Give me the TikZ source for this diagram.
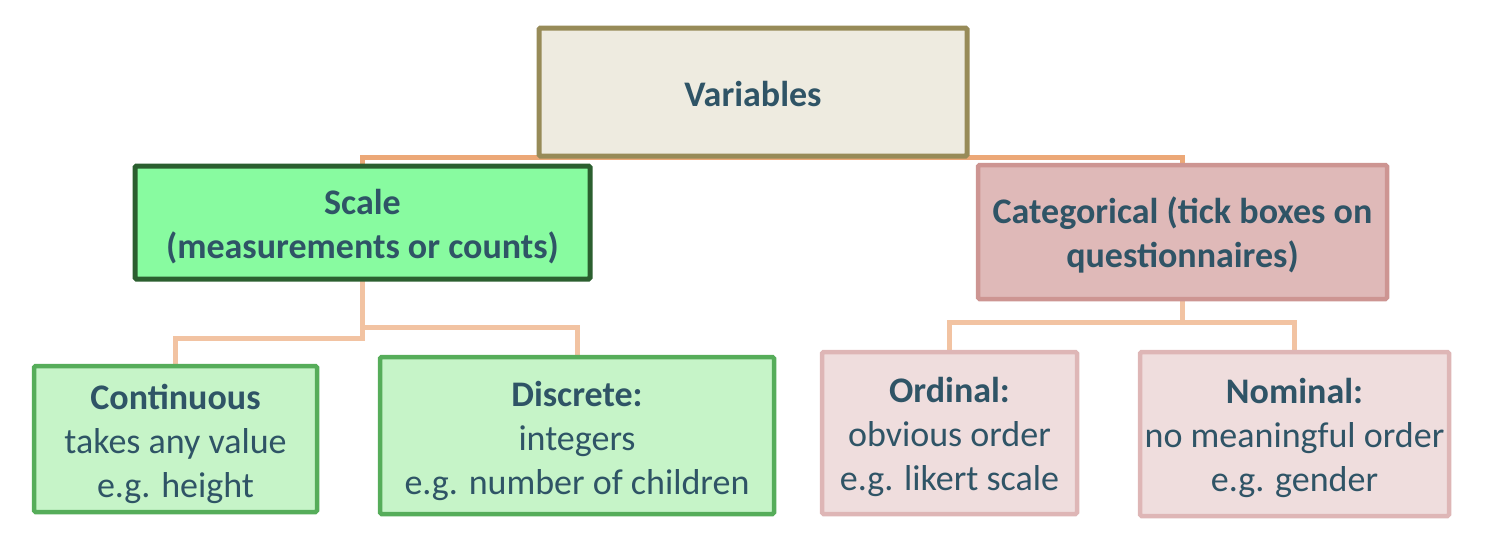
\documentclass[tikz,border=0pt]{standalone}
\usepackage{fontspec}
\setmainfont{Carlito}
\usetikzlibrary{backgrounds}
\definecolor{txt}{RGB}{47,84,102}
\definecolor{varfill}{RGB}{238,235,224}
\definecolor{vardraw}{RGB}{151,139,88}
\definecolor{scalefill}{RGB}{136,251,160}
\definecolor{scaledraw}{RGB}{43,95,47}
\definecolor{catfill}{RGB}{223,185,184}
\definecolor{catdraw}{RGB}{205,149,146}
\definecolor{leaffillg}{RGB}{198,244,200}
\definecolor{leafdrawg}{RGB}{86,173,90}
\definecolor{leaffillr}{RGB}{239,221,221}
\definecolor{leafdrawr}{RGB}{222,182,182}
\definecolor{toplink}{RGB}{236,168,119}
\definecolor{lowlink}{RGB}{242,195,162}
\newcommand\boxtext[2]{\raisebox{-#1}[\height][\depth]{\begin{tabular}{@{}c@{}}#2\end{tabular}}}
\tikzset{
  box/.style={rectangle, rounded corners=1.5pt, outer sep=0pt, inner sep=0pt, align=center,
    text=txt, font=\fontsize{36}{44}\selectfont},
  varbox/.style={box, fill=varfill, draw=vardraw, line width=5pt},
  scalebox/.style={box, fill=scalefill, draw=scaledraw, line width=5pt},
  catbox/.style={box, fill=catfill, draw=catdraw, line width=4.5pt},
  gleaf/.style={box, fill=leaffillg, draw=leafdrawg, line width=4.5pt},
  rleaf/.style={box, fill=leaffillr, draw=leafdrawr, line width=4.5pt},
  toplinkline/.style={draw=toplink, line width=5pt},
  lowlinkline/.style={draw=lowlink, line width=5pt},
}
\begin{document}
\begin{tikzpicture}[x=1pt,y=-1pt]
\useasboundingbox (0,0) rectangle (1488,542);
\node[varbox, minimum width=428pt, minimum height=128pt] (var) at (753,92) {\boxtext{5.4pt}{\textbf{Variables}}};
\node[scalebox, minimum width=455pt, minimum height=113pt] (scale) at (362.5,222.5) {\boxtext{5.4pt}{\textbf{Scale}\\\textbf{(measurements or counts)}}};
\node[catbox, minimum width=409pt, minimum height=134pt] (cat) at (1182.5,232) {\boxtext{4.4pt}{\textbf{Categorical (tick boxes on}\\\textbf{questionnaires)}}};
\node[gleaf, minimum width=283pt, minimum height=146pt] (cont) at (175.5,439) {\boxtext{5.7pt}{\textbf{Continuous}\\takes any value\\e.g. height}};
\node[gleaf, minimum width=394pt, minimum height=157pt] (disc) at (577,435.5) {\boxtext{5.7pt}{\textbf{Discrete:}\\integers\\e.g. number of children}};
\node[rleaf, minimum width=255pt, minimum height=162pt] (ord) at (949.5,433) {\boxtext{4.7pt}{\textbf{Ordinal:}\\obvious order\\e.g. likert scale}};
\node[rleaf, minimum width=309pt, minimum height=164pt] (nom) at (1294.5,434) {\boxtext{4.7pt}{\textbf{Nominal:}\\no meaningful order\\e.g. gender}};
\begin{scope}[on background layer]
\draw[toplinkline] (scale.north) -- ++(0,-9) -| (cat.north);
\draw[lowlinkline] (cont.north) -- ++(0,-28) -| (scale.south);
\draw[lowlinkline] (disc.north) -- ++(0,-30) -| (scale.south);
\draw[lowlinkline] (ord.north) -- ++(0,-30) -| (cat.south);
\draw[lowlinkline] (nom.north) -- ++(0,-30) -| (cat.south);
\end{scope}
\end{tikzpicture}
\end{document}
